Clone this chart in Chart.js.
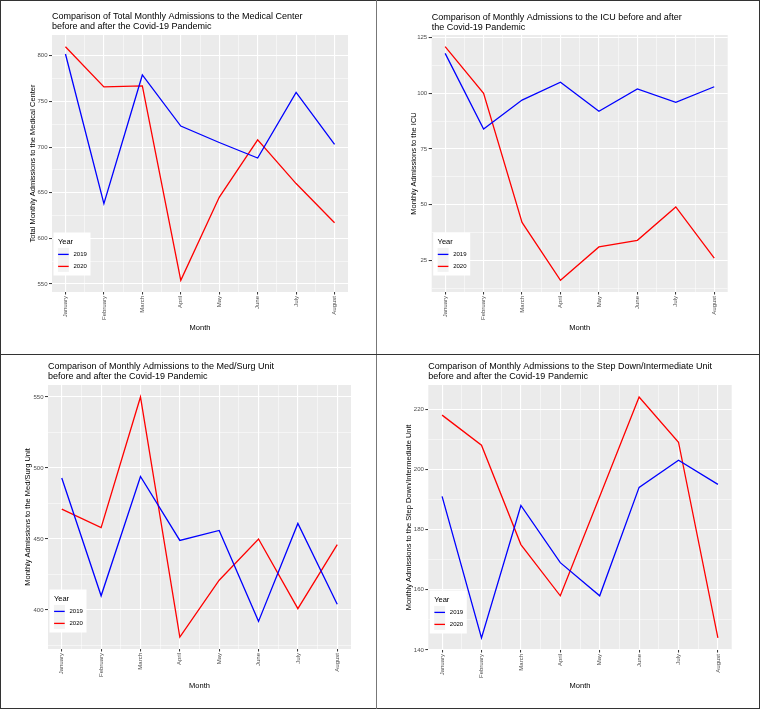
<!DOCTYPE html>
<html><head><meta charset="utf-8">
<script src="https://cdn.jsdelivr.net/npm/chart.js@4.4.1/dist/chart.umd.min.js"></script>
<style>
body{margin:0;background:#fff;}
#wrap{position:relative;width:761px;height:709px;overflow:hidden;background:#fff;}
canvas{position:absolute;}
.ln{position:absolute;}
</style></head><body>
<div id="wrap">
<canvas id="c1" width="375" height="352" style="left:1px;top:1px"></canvas>
<canvas id="c2" width="382" height="352" style="left:377px;top:1px"></canvas>
<canvas id="c3" width="375" height="352" style="left:1px;top:355px"></canvas>
<canvas id="c4" width="382" height="352" style="left:377px;top:355px"></canvas>
<div class="ln" style="left:0;top:0;width:760px;height:1px;background:#333"></div>
<div class="ln" style="left:0;top:0;width:1px;height:709px;background:#333"></div>
<div class="ln" style="left:759px;top:0;width:1px;height:709px;background:#333"></div>
<div class="ln" style="left:0;top:708px;width:760px;height:1px;background:#333"></div>
<div class="ln" style="left:376px;top:0;width:1px;height:709px;background:#777"></div>
<div class="ln" style="left:0;top:354px;width:760px;height:1px;background:#333"></div>
</div>
<script>
// ---- data ----
const months = ['January','February','March','April','May','June','July','August'];
const years = ['2019','2020'];
const legendTitle = 'Year';
const xTitle = 'Month';

const total2019 = [802, 638, 779, 723, 705, 688, 760, 703];
const total2020 = [810, 766, 767, 554, 645, 708, 660, 617];
const totalTicks = [550, 600, 650, 700, 750, 800];

const icu2019 = [118, 84, 97, 105, 92, 102, 96, 103];
const icu2020 = [121, 100, 42, 16, 31, 34, 49, 26];
const icuTicks = [25, 50, 75, 100, 125];

const medSurg2019 = [493, 410, 494, 449, 456, 392, 461, 404];
const medSurg2020 = [471, 458, 550, 381, 421, 450, 401, 446];
const medSurgTicks = [400, 450, 500, 550];

const stepDown2019 = [191, 144, 188, 169, 158, 194, 203, 195];
const stepDown2020 = [218, 208, 175, 158, 191, 224, 209, 144];
const stepDownTicks = [140, 160, 180, 200, 220];

// ---- rendering ----
const F = '"Liberation Sans", Arial, sans-serif';
const LW = 1.3;

const bgPlugin = {
  id: 'ggBg',
  beforeDraw(chart) {
    const {ctx, chartArea: a} = chart;
    ctx.save();
    ctx.fillStyle = '#EBEBEB';
    ctx.fillRect(a.left, a.top, a.right - a.left, a.bottom - a.top);
    ctx.restore();
  }
};

const legendPlugin = {
  id: 'ggLegend',
  afterDraw(chart) {
    const {ctx, chartArea: a} = chart;
    const w = 37, h = 43;
    const x = a.left + 1.5, y = a.bottom - 16.5 - h;
    ctx.save();
    ctx.fillStyle = '#fff';
    ctx.fillRect(x, y, w, h);
    ctx.fillStyle = '#000';
    ctx.textBaseline = 'middle';
    ctx.textAlign = 'left';
    ctx.font = '7.5px ' + F;
    ctx.fillText(legendTitle, x + 4.4, y + 9.4);
    chart.data.datasets.forEach((d, i) => {
      const ky = y + 15.4 + i * 12;
      ctx.fillStyle = '#F2F2F2';
      ctx.fillRect(x + 4.4, ky, 11, 12);
      ctx.strokeStyle = d.borderColor;
      ctx.lineWidth = LW;
      ctx.beginPath();
      ctx.moveTo(x + 4.6, ky + 6.5);
      ctx.lineTo(x + 15.2, ky + 6.5);
      ctx.stroke();
      ctx.fillStyle = '#000';
      ctx.font = '6px ' + F;
      ctx.fillText(d.label, x + 20, ky + 6.5);
    });
    ctx.restore();
  }
};

function expandRange(a, b) {
  const lo = Math.min(...a, ...b), hi = Math.max(...a, ...b);
  const e = (hi - lo) * 0.05;
  return [lo - e, hi + e];
}

function panel(id, o) {
  const [ymin, ymax] = expandRange(o.s1, o.s2);
  const step = o.ticks[1] - o.ticks[0];
  const major = new Set(o.ticks);
  const yAll = [];
  for (let v = o.ticks[0] - step; v <= o.ticks[o.ticks.length - 1] + step + 1e-9; v += step / 2) {
    if (v >= ymin && v <= ymax) yAll.push(v);
  }
  const xMin = 1 - 0.35, xMax = months.length + 0.35;
  const xAll = [];
  for (let v = 1; v <= months.length; v += 0.5) xAll.push(v);

  return new Chart(document.getElementById(id), {
    type: 'line',
    data: {
      datasets: [
        {label: years[0], data: o.s1.map((v, i) => ({x: i + 1, y: v})), borderColor: '#0000FF', backgroundColor: '#0000FF', borderWidth: LW, pointRadius: 0, tension: 0, fill: false},
        {label: years[1], data: o.s2.map((v, i) => ({x: i + 1, y: v})), borderColor: '#FF0000', backgroundColor: '#FF0000', borderWidth: LW, pointRadius: 0, tension: 0, fill: false}
      ]
    },
    options: {
      responsive: false,
      animation: false,
      devicePixelRatio: 1,
      events: [],
      layout: {padding: {left: 0, top: 0, right: o.padR, bottom: o.padB}},
      plugins: {
        legend: {display: false},
        tooltip: {enabled: false},
        title: {
          display: true, text: o.title, align: 'start', fullSize: false, color: '#000',
          font: {family: F, size: 9, weight: 'normal', lineHeight: 10 / 9},
          padding: {top: o.tTop, bottom: o.tBot}
        }
      },
      scales: {
        x: {
          type: 'linear', min: xMin, max: xMax,
          afterBuildTicks: s => { s.ticks = xAll.map(v => ({value: v})); },
          afterFit: s => { s.height = o.xH; },
          ticks: {
            autoSkip: false, minRotation: 90, maxRotation: 90, padding: 1.5,
            color: '#4D4D4D', font: {family: F, size: 6},
            callback: v => Number.isInteger(v) ? months[v - 1] : ''
          },
          grid: {
            color: '#FFFFFF',
            lineWidth: c => Number.isInteger(c.tick.value) ? 1.1 : 0.5,
            tickLength: 2.5, tickWidth: 1,
            tickColor: c => Number.isInteger(c.tick.value) ? '#333333' : 'rgba(0,0,0,0)'
          },
          border: {display: false},
          title: {display: true, text: xTitle, color: '#000', font: {family: F, size: 7.5, lineHeight: 1.2}, padding: {top: 0, bottom: o.xtPad}}
        },
        y: {
          type: 'linear', min: ymin, max: ymax,
          afterBuildTicks: s => { s.ticks = yAll.map(v => ({value: v})); },
          afterFit: s => { s.width = o.yW; },
          ticks: {
            autoSkip: false, padding: 1.5,
            color: '#4D4D4D', font: {family: F, size: 6},
            callback: v => major.has(v) ? String(v) : ''
          },
          grid: {
            color: '#FFFFFF',
            lineWidth: c => major.has(c.tick.value) ? 1.1 : 0.5,
            tickLength: 3, tickWidth: 1,
            tickColor: c => major.has(c.tick.value) ? '#333333' : 'rgba(0,0,0,0)'
          },
          border: {display: false},
          title: {display: true, text: o.yTitle, color: '#000', font: {family: F, size: 7.5, lineHeight: 1.2}, padding: {top: o.ytPad, bottom: 0}}
        }
      }
    },
    plugins: [bgPlugin, legendPlugin]
  });
}

panel('c1', {
  s1: total2019, s2: total2020, ticks: totalTicks,
  title: ['Comparison of Total Monthly Admissions to the Medical Center', 'before and after the Covid-19 Pandemic'],
  yTitle: 'Total Monthly Admissions to the Medical Center',
  tTop: 11, tBot: 3, yW: 51, ytPad: 27.5, padR: 28, padB: 16, xH: 45, xtPad: 5
});
panel('c2', {
  s1: icu2019, s2: icu2020, ticks: icuTicks,
  title: ['Comparison of Monthly Admissions to the ICU before and after', 'the Covid-19 Pandemic'],
  yTitle: 'Monthly Admissions to the ICU',
  tTop: 11.3, tBot: 2.7, yW: 54.7, ytPad: 32, padR: 31.3, padB: 16, xH: 45, xtPad: 4.2
});
panel('c3', {
  s1: medSurg2019, s2: medSurg2020, ticks: medSurgTicks,
  title: ['Comparison of Monthly Admissions to the Med/Surg Unit', 'before and after the Covid-19 Pandemic'],
  yTitle: 'Monthly Admissions to the Med/Surg Unit',
  tTop: 6.7, tBot: 3.3, yW: 47, ytPad: 22.9, padR: 25, padB: 10, xH: 48, xtPad: 6.5
});
panel('c4', {
  s1: stepDown2019, s2: stepDown2020, ticks: stepDownTicks,
  title: ['Comparison of Monthly Admissions to the Step Down/Intermediate Unit', 'before and after the Covid-19 Pandemic'],
  yTitle: 'Monthly Admissions to the Step Down/Intermediate Unit',
  tTop: 6.7, tBot: 3.3, yW: 51.3, ytPad: 27.5, padR: 27.3, padB: 10, xH: 47, xtPad: 6.5
});
</script>
</body></html>
